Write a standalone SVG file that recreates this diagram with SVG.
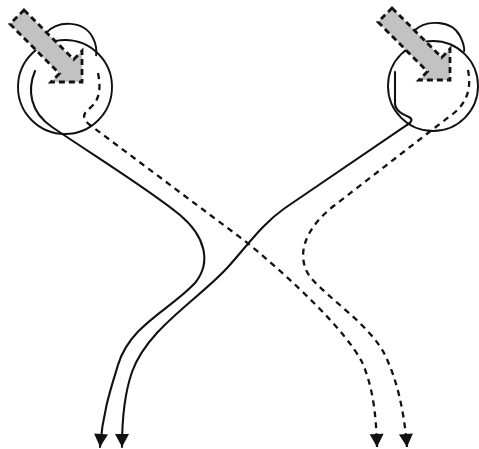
<svg xmlns="http://www.w3.org/2000/svg" width="479" height="449" viewBox="0 0 479 449">
  <defs>
    <style>
      .eye { fill: none; stroke: #111; stroke-width: 1.9; }
      .beam { fill: #c2c2c2; stroke: #111; stroke-width: 2.8; stroke-dasharray: 6 4; stroke-linejoin: miter; }
      .solid { fill: none; stroke: #111; stroke-width: 2.1; stroke-linecap: round; }
      .dashed { fill: none; stroke: #111; stroke-width: 2.3; stroke-dasharray: 6 5; }
    </style>
    <marker id="tip" markerUnits="userSpaceOnUse" markerWidth="15" markerHeight="15" viewBox="0 0 15 15" refX="14" refY="7.5" orient="auto">
      <path d="M1,0.5 L14,7.5 L1,14.5 Z" fill="#111"/>
    </marker>
    <polygon id="beamShape" points="24,10 73.6,59.4 82,51 82,82 51,82 59.4,73.6 10,24"/>
  </defs>

  <g id="connectors">
    <path id="left-solid" class="solid" marker-end="url(#tip)" d="M35,71 C27,90 30,112 52,127 C90,153 150,190 180,215 C205,236 212,262 195,283 C170,310 130,325 118,365 C112,385 103,410 100,447"/>
    <path id="right-solid" class="solid" marker-end="url(#tip)" d="M395,72 L395,104 C396,111 402,114 409,117 C413,119 412,122 407,125 L285,208 C262,224 248,245 228,267 C198,300 148,328 132,372 C124,395 122,420 122,447"/>
    <path id="left-dashed" class="dashed" marker-end="url(#tip)" d="M98,73 C101,88 100,100 90,108 C82,114 82,119 90,125 L245,241 C295,282 345,330 362,362 C372,385 376,410 377,447"/>
    <path id="right-dashed" class="dashed" marker-end="url(#tip)" d="M468,70 C472,90 466,105 450,116 L335,205 C305,228 295,255 310,277 C330,300 370,325 385,355 C397,380 404,410 407,447"/>
  </g>

  <g id="left-eye">
    <circle class="eye" cx="65" cy="87" r="47"/>
    <path class="eye" d="M46,33 C58,20 84,20 93,38 C96,44 97,50 96,56"/>
    <use href="#beamShape" class="beam"/>
  </g>

  <g id="right-eye">
    <circle class="eye" cx="433" cy="86" r="45"/>
    <path class="eye" d="M414,31 C426,19 452,20 460,36 C463,42 465,47 464,52"/>
    <use href="#beamShape" class="beam" transform="translate(368,-2)"/>
  </g>
</svg>
